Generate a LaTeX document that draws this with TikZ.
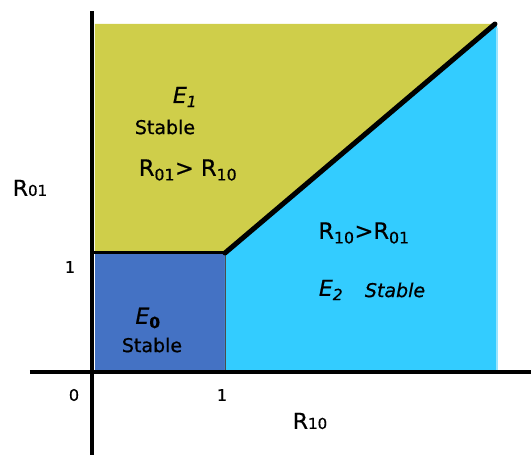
\documentclass[tikz,border=0pt]{standalone}
\usepackage{fontspec}
\setmainfont{DejaVu Sans}[FakeBold=0.6]

\definecolor{stableone}{RGB}{207,206,74}
\definecolor{stablezero}{RGB}{68,114,196}
\definecolor{stabletwo}{RGB}{51,204,255}

\begin{document}
\begin{tikzpicture}[x=1pt, y=1pt,
    axis/.style={line width=4.5pt},
    ticklabel/.style={font=\fontsize{16}{16}\selectfont},
    axislabel/.style={font=\fontsize{22}{22}\selectfont},
    eqlabel/.style={font=\fontsize{22}{22}\selectfont\itshape},
    stablelabel/.style={font=\fontsize{19}{19}\selectfont},
    condlabel/.style={font=\fontsize{22.5}{22.5}\selectfont}]
  \useasboundingbox (-92, -83) rectangle (439, 372);

  \coordinate (corner) at (133, 119);
  \coordinate (tip) at (403, 348);

  % Regions
  \fill [stableone] (3, 119) -- (3, 348) -- (tip) -- (corner) -- cycle;
  \fill [stablezero] (3, 2) rectangle (corner);
  \fill [stabletwo] (133, 2) -- (corner) -- (tip) -- (405, 346) -- (405, 2) -- cycle;
  \draw [stabletwo!50!white, line width=1.5pt] (405, 2) -- (405, 344);
  \draw [black!70, line width=0.8pt] (133, 2) -- (corner);

  % Boundary between E_1 and the other regions
  \draw [line width=3pt] (1, 119) -- (corner);
  \draw [line width=5pt, line cap=round] (corner) -- (tip);

  % Axes
  \draw [axis] (-62, 0) -- (439, 0);
  \draw [axis] (0, -83) -- (0, 361);

  % Ticks and axis names
  \node [ticklabel] (zero) at (-18, -23) {0};
  \node [ticklabel] (onex) at (130, -23) {1};
  \node [ticklabel] (oney) at (-22, 105) {1};
  \node [axislabel] (rten) at (218, -49) {R{\fontsize{15}{15}\selectfont 10}};
  \node [axislabel] (rone) at (-62, 184) {R{\fontsize{15}{15}\selectfont 01}};

  % Region E_1
  \node [eqlabel] (eone) at (93, 275) {E\textsubscript{1}};
  \node [stablelabel] (sone) at (73, 245) {Stable};
  \node [condlabel] (cone) at (96, 202)
    {R\textsubscript{01}> R\textsubscript{10}};

  % Region E_0
  \node [eqlabel] (ezero) at (56, 54) {E\textsubscript{\upshape\bfseries 0}};
  \node [stablelabel] (szero) at (60, 27) {Stable};

  % Region E_2
  \node [condlabel] (ctwo) at (272, 139) {R\textsubscript{10}>R\textsubscript{01}};
  \node [eqlabel] (etwo) at (239, 82) {E\textsubscript{2}};
  \node [stablelabel, font=\fontsize{19}{19}\selectfont\itshape] (stwo) at (303, 82) {Stable};
\end{tikzpicture}
\end{document}
